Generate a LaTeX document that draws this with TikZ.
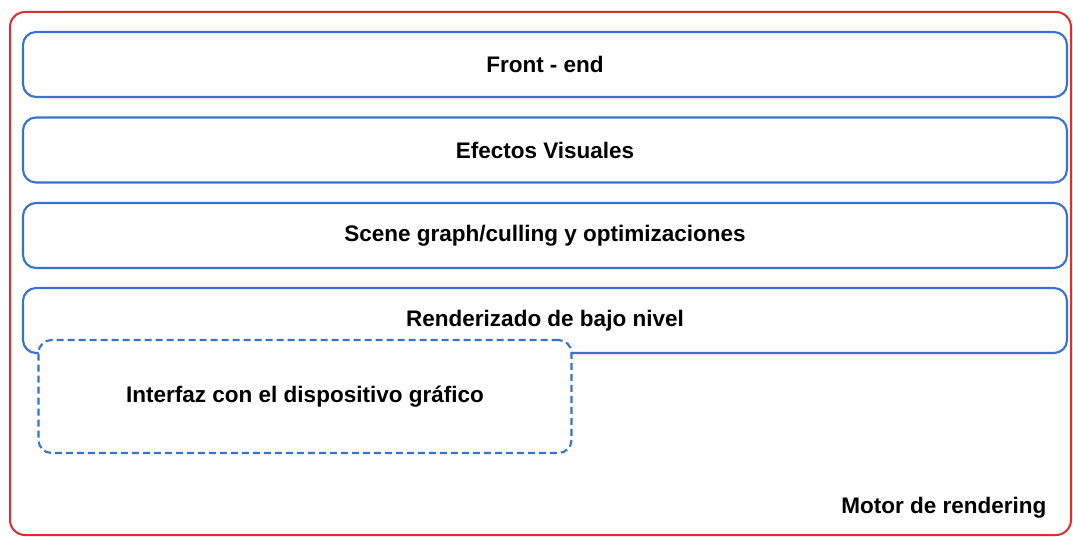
\documentclass[tikz,border=0pt]{standalone}
\usepackage{fontspec}
\setmainfont{Liberation Sans}
\usepackage{tikz}
\usetikzlibrary{positioning}
\definecolor{framered}{RGB}{222,45,45}
\definecolor{layerblue}{RGB}{55,115,205}

\begin{document}
\begin{tikzpicture}[x=1pt, y=-1pt,
        layer/.style={draw=layerblue, line width=2.1pt, rounded corners=13pt, fill=white,
            minimum width=1044pt, minimum height=65pt, font=\bfseries\fontsize{22.5}{27}\selectfont},
        iface/.style={layer, dash pattern=on 7pt off 4pt, minimum width=533pt, minimum height=113pt},
    ]
        \useasboundingbox (0,0) rectangle (1073,537);
        % outer frame
        \node[draw=framered, line width=2pt, rounded corners=15pt,
            minimum width=1061pt, minimum height=523pt] (motor) at (540.5,273.5) {};
        \node[layer] (frontend) at (545,64.5) {Front - end};
        \node[layer] (efectos) at (545,150) {Efectos Visuales};
        \node[layer] (scene) at (545,235.5) {Scene graph/culling y optimizaciones};
        \node[layer] (bajo) at (545,320.5) {Renderizado de bajo nivel};
        \node[iface] (interfaz) at (305,396.5) {Interfaz con el dispositivo gráfico};
        \node[font=\bfseries\fontsize{22.5}{27}\selectfont, anchor=east] (motorlbl) at (1050,508) {Motor de rendering};
\end{tikzpicture}
\end{document}
